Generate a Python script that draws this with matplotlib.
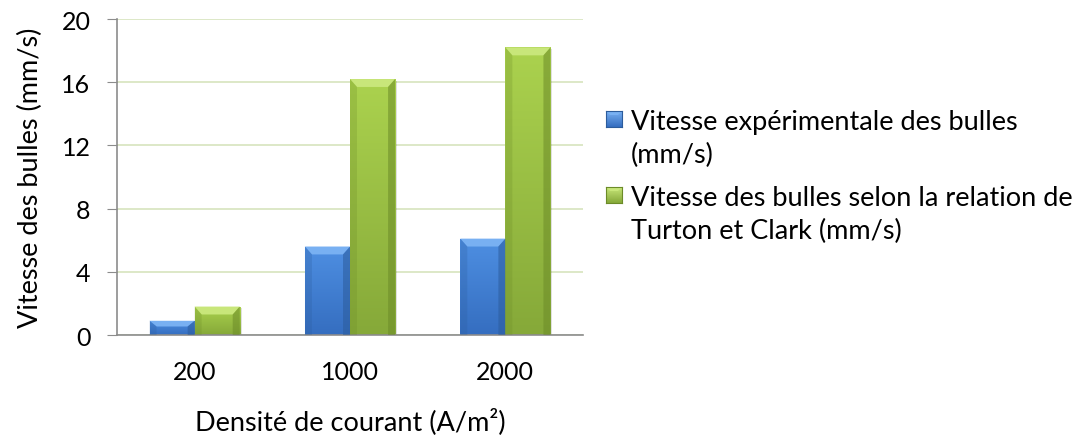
import numpy as np
import matplotlib.pyplot as plt
from matplotlib.patches import Polygon, Rectangle
from matplotlib.colors import LinearSegmentedColormap

plt.rcParams['font.family'] = ['Lato', 'DejaVu Sans']

# Données : vitesse des bulles selon la densité de courant
densites = ["200", "1000", "2000"]
vitesse_exp = [0.9, 5.6, 6.1]
vitesse_turton = [1.8, 16.2, 18.2]
noms = ["Vitesse expérimentale des bulles\n(mm/s)",
        "Vitesse des bulles selon la relation de\nTurton et Clark (mm/s)"]

# couleurs (haut, bas, biseau haut, bords)
bleu = ("#4e8fe2", "#356ec0", "#78b0f2", "#2c5c9c")
vert = ("#abd24e", "#86a939", "#c8e67a", "#6c8b28")

fig = plt.figure(figsize=(10.89, 4.39), dpi=100)
ax = fig.add_axes([0.1074, 0.2346, 0.428, 0.7198])

x = np.arange(len(densites))
w = 0.29
grad = np.linspace(1, 0, 64).reshape(-1, 1)


def barres_degradees(pos, valeurs, couleurs):
    haut, bas, clair, fonce = couleurs
    cmap = LinearSegmentedColormap.from_list("g", [bas, haut])
    bars = ax.bar(pos, valeurs, w, color=haut, zorder=2)
    for b in bars:
        x0, h, bw = b.get_x(), b.get_height(), b.get_width()
        b.set_facecolor("none")
        im = ax.imshow(grad, extent=[x0, x0 + bw, 0, h], cmap=cmap,
                       aspect="auto", zorder=2, interpolation="bicubic")
        im.set_clip_path(b)
        dx, dy = 0.045, min(0.5, h * 0.4)
        # biseaux du haut et des côtés
        ax.add_patch(Polygon([(x0, h), (x0 + bw, h), (x0 + bw - dx, h - dy),
                              (x0 + dx, h - dy)], closed=True,
                             facecolor=clair, edgecolor="none", zorder=3))
        ax.add_patch(Polygon([(x0, 0), (x0, h), (x0 + dx, h - dy), (x0 + dx, 0)],
                             closed=True, facecolor=fonce, alpha=0.25,
                             edgecolor="none", zorder=3))
        ax.add_patch(Polygon([(x0 + bw, 0), (x0 + bw, h), (x0 + bw - dx, h - dy),
                              (x0 + bw - dx, 0)], closed=True, facecolor=fonce,
                             alpha=0.55, edgecolor="none", zorder=3))
        ax.add_patch(Rectangle((x0 + bw, 0), 0.012, h - 0.1, facecolor="#000000",
                               alpha=0.12, edgecolor="none", zorder=1.5))
    return bars


barres_degradees(x - w / 2, vitesse_exp, bleu)
barres_degradees(x + w / 2, vitesse_turton, vert)

ax.set_xlim(-0.5, 2.5)
ax.set_ylim(0, 20)
ax.set_yticks([0, 4, 8, 12, 16, 20])
ax.set_xticks(x)
ax.set_xticklabels(densites)
ax.yaxis.grid(True, color="#d7e4bd", linewidth=1.2, zorder=0)
ax.set_axisbelow(True)
for s in ["top", "right"]:
    ax.spines[s].set_visible(False)
for s in ["left", "bottom"]:
    ax.spines[s].set_color("#8c8c8c")
    ax.spines[s].set_linewidth(1.2)
ax.tick_params(axis="y", length=7, color="#8c8c8c", labelsize=18, pad=12)
ax.tick_params(axis="x", length=0, labelsize=18, pad=18)

ax.set_ylabel("Vitesse des bulles (mm/s)", fontsize=19.5, labelpad=13)
ax.set_xlabel("Densité de courant (A/m²)", fontsize=19.5, labelpad=17)

# légende à droite : carré dégradé + une ligne de texte toutes les 33 px
for i, (nom, c) in enumerate(zip(noms, [bleu, vert])):
    y0 = [120, 196][i]
    cax = fig.add_axes([606 / 1089, 1 - (y0 + 8) / 439, 16 / 1089, 16 / 439])
    cax.imshow(grad, cmap=LinearSegmentedColormap.from_list("g", [c[1], c[2]]),
               aspect="auto", extent=[0, 1, 0, 1])
    cax.add_patch(Polygon([(0, 1), (1, 1), (0.75, 0.75), (0.25, 0.75)],
                          closed=True, facecolor=c[2], edgecolor="none"))
    cax.set_xticks([])
    cax.set_yticks([])
    for s in cax.spines.values():
        s.set_color(c[3])
    for k, ligne in enumerate(nom.split("\n")):
        fig.text(631 / 1089, 1 - (y0 + 33 * k) / 439, ligne, fontsize=19.5,
                 va="center_baseline", ha="left")

fig.savefig("out.png", dpi=100)
